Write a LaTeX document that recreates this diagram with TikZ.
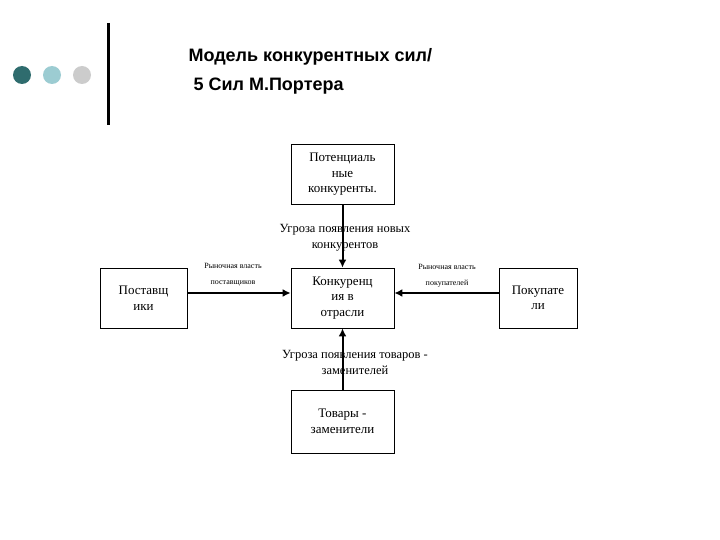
\documentclass[tikz,border=0pt]{standalone}
\usepackage{fontspec}
\usetikzlibrary{arrows.meta}
\setmainfont{Liberation Serif}
\newfontfamily\ttl{Liberation Sans}
\begin{document}
\begin{tikzpicture}[x=1pt,y=-1pt,
  bx/.style={draw,line width=0.8pt,minimum width=103pt,minimum height=60pt,inner sep=0pt,align=center,font=\fontsize{13}{15.5}\selectfont},
  ar/.style={-{Latex[length=8pt,width=8pt]},line width=2pt},
  lb/.style={font=\fontsize{12.5}{16}\selectfont,align=center,inner sep=1pt},
  sm/.style={font=\fontsize{8}{16}\selectfont,align=center}]
\useasboundingbox (0,0) rectangle (720,540);
\fill[white] (0,0) rectangle (720,540);
\fill[fill={rgb,255:red,47;green,108;blue,110}] (22,75) circle (9);
\fill[fill={rgb,255:red,156;green,204;blue,210}] (52,75) circle (9);
\fill[fill={rgb,255:red,204;green,204;blue,204}] (82,75) circle (9);
\draw[line width=3pt] (108,23) -- (108,125);
\node[anchor=west,font=\ttl\bfseries\fontsize{18}{22}\selectfont] (t1) at (185,57) {Модель конкурентных сил/};
\node[anchor=west,font=\ttl\bfseries\fontsize{18}{22}\selectfont] (t2) at (185,86) {\ 5 Сил М.Портера};
\node[bx] (top) at (342.5,174.5) {Потенциаль\\ные\\конкуренты.};
\node[bx] (cen) at (342.5,298) {Конкуренц\\ия в\\отрасли};
\node[bx,minimum width=87pt] (lft) at (143.5,298) {Поставщ\\ики};
\node[bx,minimum width=78pt] (rgt) at (538,298) {Покупате\\ли};
\node[bx,minimum height=63pt] (bot) at (342.5,421.5) {Товары -\\заменители};
\draw[ar] (top) -- (cen);
\node[lb] (l1) at (345,238) {Угроза появления новых\\конкурентов};
\draw[ar] (lft.east |- 0,293) -- (cen.west |- 0,293);
\node[sm] (l2) at (233,275) {Рыночная власть\\поставщиков};
\draw[ar] (rgt.west |- 0,293) -- (cen.east |- 0,293);
\node[sm] (l3) at (447,276) {Рыночная власть\\покупателей};
\draw[ar] (bot) -- (cen);
\node[lb] (l4) at (355,362) {Угроза появления товаров -\\заменителей};
\end{tikzpicture}
\end{document}
